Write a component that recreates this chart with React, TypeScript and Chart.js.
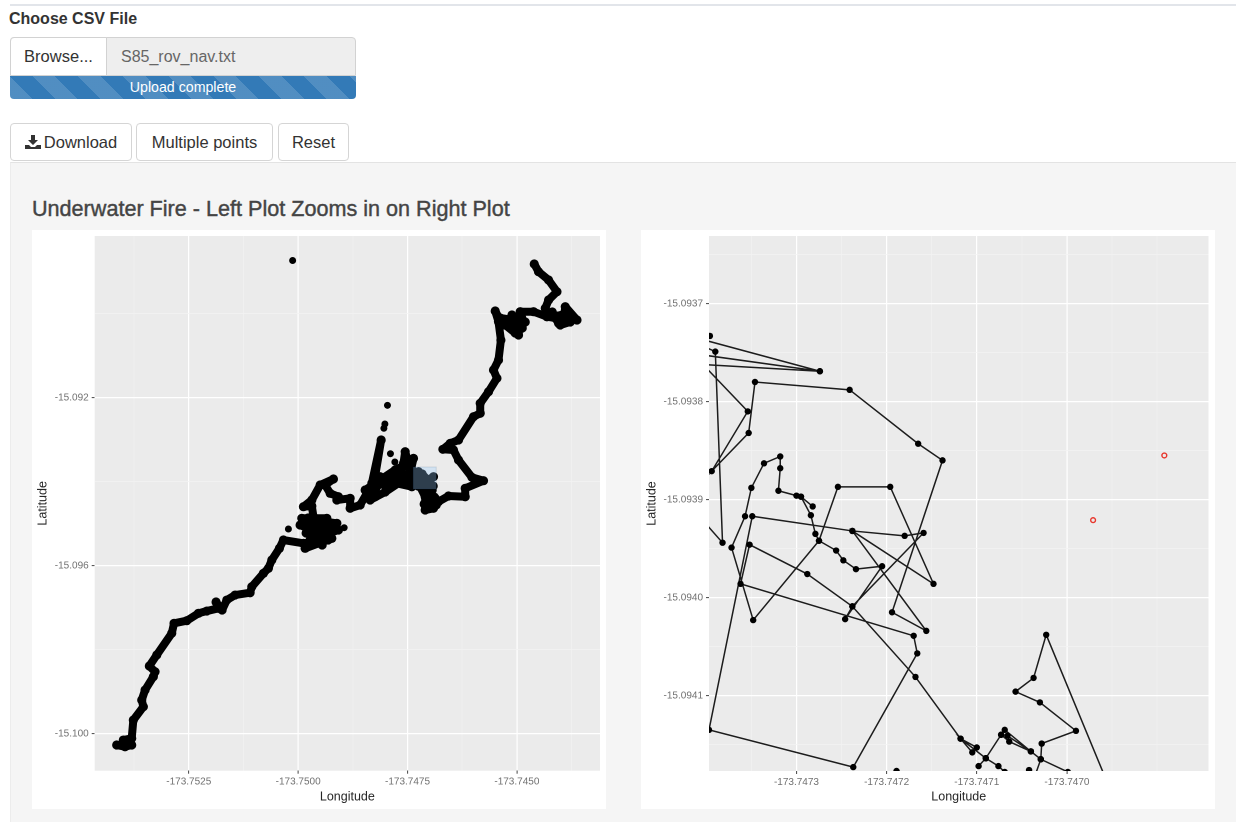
import React, { useEffect, useRef } from "react";
import { Chart, registerables } from "chart.js";

Chart.register(...registerables);

const FONT = '"Liberation Sans", Arial, sans-serif';

// Left plot: whole dive track
const leftTrackLon = [
  -173.754147, -173.753957, -173.753804, -173.753996, -173.753804, -173.753767, -173.753538, -173.753575, -173.753499, -173.75331,
  -173.753271, -173.753401, -173.753232, -173.752889, -173.752836, -173.752546, -173.75228, -173.752088, -173.751823, -173.751876,
  -173.751738, -173.751631, -173.751441, -173.751098, -173.751059, -173.750794, -173.75068, -173.750602, -173.750428, -173.750336,
  -173.749879, -173.74923, -173.74984, -173.749451, -173.749955, -173.749079, -173.749726, -173.749344, -173.749916, -173.749115,
  -173.749817, -173.749383, -173.74965, -173.749687, -173.749879, -173.749687, -173.749497, -173.749193, -173.749383, -173.749268,
  -173.749079, -173.749115, -173.748811, -173.748811, -173.748582, -173.748429, -173.748239, -173.748315, -173.748102, -173.748285,
  -173.748125, -173.747972, -173.747896, -173.747668, -173.747592, -173.747553, -173.747485, -173.747363, -173.747439, -173.747782,
  -173.7474, -173.747249, -173.747096, -173.746906, -173.74721, -173.747096, -173.747096, -173.746906, -173.746867, -173.747057,
  -173.746792, -173.746563, -173.746181, -173.746181, -173.745763, -173.746028, -173.746334, -173.746449, -173.746691, -173.746524,
  -173.746334, -173.745991, -173.745838, -173.745838, -173.745648, -173.745456, -173.745534, -173.74542, -173.745365, -173.74542,
  -173.745495, -173.745381, -173.745191, -173.745113, -173.744962, -173.744923, -173.745152, -173.744848, -173.744923, -173.744619,
  -173.744313, -173.744351, -173.744276, -173.744084, -173.744276, -173.744505, -173.744603, null,
  -173.744313, -173.744123, -173.744047, -173.743933, -173.743894, -173.743626, -173.743933, null,
  -173.748468, -173.748125, -173.747782, -173.747553, -173.747393, -173.747668, -173.748011, -173.748354, -173.748171, -173.747851,
  -173.747485, -173.747713, null,
  -173.747119, -173.746936, -173.747027, -173.746844, -173.747119, -173.74689, null,
  -173.747325, -173.747256, -173.746913, -173.747165, null,
  -173.745381, -173.744809, -173.745038, -173.745266, -173.744923, -173.745152, -173.744877, null,
  -173.744191, -173.744008, -173.74378, -173.743825, -173.744054, null,
  -173.749543, -173.749451, -173.74968, -173.749772, -173.749314,
];
const leftTrackLat = [
  -15.100269, -15.10031, -15.100269, -15.10015, -15.10011, -15.099674, -15.099357, -15.099198, -15.09896, -15.098643,
  -15.098524, -15.098388, -15.098126, -15.097609, -15.097371, -15.097309, -15.097133, -15.097079, -15.097014, -15.096864,
  -15.097055, -15.096817, -15.096698, -15.096643, -15.0965, -15.096181, -15.096062, -15.095864, -15.095586, -15.095388,
  -15.095467, -15.095348, -15.095586, -15.095269, -15.095031, -15.09515, -15.095388, -15.094871, -15.094871, -15.09499,
  -15.095221, -15.095102, -15.094833, -15.094579, -15.094595, -15.094436, -15.094079, -15.093936, -15.094079, -15.094276,
  -15.094357, -15.094436, -15.094395, -15.094633, -15.094555, -15.094276, -15.094357, -15.094038, -15.093007, -15.09415,
  -15.093881, -15.094198, -15.09384, -15.093881, -15.093562, -15.093286, -15.093531, -15.093443, -15.0938, -15.094031,
  -15.094119, -15.093762, -15.094, -15.093881, -15.094119, -15.094357, -15.094674, -15.094633, -15.094395, -15.094476,
  -15.094476, -15.09434, -15.094357, -15.094157, -15.093976, -15.093895, -15.093483, -15.093245, -15.093228, -15.093086,
  -15.093007, -15.092452, -15.092371, -15.092133, -15.091857, -15.091538, -15.09134, -15.091102, -15.090626, -15.09019,
  -15.089936, -15.09015, -15.090228, -15.090031, -15.090507, -15.09019, -15.09034, -15.09019, -15.089952, -15.089952,
  -15.090071, -15.089871, -15.089674, -15.089476, -15.089197, -15.089, -15.088816, null,
  -15.090071, -15.090102, -15.090228, -15.09019, -15.089833, -15.09015, -15.090031, null,
  -15.094198, -15.093959, -15.093721, -15.093602, -15.093721, -15.094007, -15.094245, -15.094436, -15.094079, -15.093912,
  -15.093912, -15.093769, null,
  -15.094198, -15.094198, -15.094555, -15.094555, -15.094531, -15.094364, null,
  -15.093912, -15.094102, -15.094102, -15.093817, null,
  -15.090102, -15.090197, -15.090459, -15.090269, -15.090031, -15.09015, -15.09034, null,
  -15.089959, -15.090269, -15.090197, -15.089959, -15.090055, null,
  -15.09515, -15.095507, -15.095269, -15.094864, -15.095388,
];
const leftDotLon = [-173.750126, -173.74804, -173.748017, -173.747958, -173.74789, -173.747789, -173.748948, -173.750222];
const leftDotLat = [-15.088733, -15.092728, -15.092626, -15.092181, -15.093333, -15.093531, -15.095095, -15.095126];
const brushLon = [-173.74737, -173.746844];
const brushLat = [-15.09365, -15.094174];

const leftXMajor = [-173.7525, -173.75, -173.7475, -173.745];
const leftXMinor = [-173.75375, -173.75125, -173.74875, -173.74625, -173.74375];
const leftYMajor = [-15.092, -15.096, -15.1];
const leftYMinor = [-15.09, -15.094, -15.098];

// Right plot: zoomed selection
const rightPathLon = [
  -173.747407, -173.747274, -173.747407, -173.747407, -173.747274, null,
  -173.747407, -173.74739, -173.747382, -173.747407, null,
  -173.747407, -173.747354, -173.747394, -173.747353, -173.747346, -173.747241, -173.747165, -173.747138, -173.747194, -173.747156,
  -173.747238, -173.747148, -173.747196, -173.747254, -173.747275, -173.747348, -173.747372, -173.747357, -173.74735, -173.747336,
  -173.747318, -173.747318, -173.74732, -173.7473, -173.747295, -173.747282, null,
  -173.747295, -173.747284, -173.747279, -173.747275, -173.747256, -173.747248, -173.747234, -173.747205, -173.747246, -173.747238,
  -173.747159, -173.74718, -173.747238, -173.747349, -173.747397, -173.747237, -173.747166, -173.74717, -173.747362, -173.747352,
  -173.747288, -173.747238, -173.747168, -173.747118, -173.7471, -173.747105, -173.747118, -173.74709, -173.747098, null,
  -173.74709, -173.747073, -173.747069, -173.74704, -173.747029, -173.746999, null,
  -173.747073, -173.747064, -173.74704, null,
  -173.747066, -173.74704, null,
  -173.74709, -173.747076, -173.747069, null,
  -173.747029, -173.747028, -173.74699, -173.74703, -173.747057, -173.747037, -173.747023, -173.746952, null,
  -173.747029, -173.747037, null,
  -173.747042, null,
  -173.747189, null,
  -173.747396,
];
const rightPathLat = [
  -15.093736, -15.093769, -15.093752, -15.093762, -15.093769, null,
  -15.093742, -15.093749, -15.093944, -15.093918, null,
  -15.093759, -15.09381, -15.093871, -15.093832, -15.09378, -15.093788, -15.093843, -15.09386, -15.094015, -15.094034,
  -15.093932, -15.093986, -15.093887, -15.093887, -15.093942, -15.094023, -15.093949, -15.093917, -15.093888, -15.093863,
  -15.093856, -15.093868, -15.093891, -15.093896, -15.093897, -15.093907, null,
  -15.093897, -15.093916, -15.093935, -15.093942, -15.093952, -15.093962, -15.093971, -15.093968, -15.094022, -15.094009,
  -15.093934, -15.093937, -15.093932, -15.093917, -15.094135, -15.094173, -15.094057, -15.094039, -15.093986, -15.093946,
  -15.093976, -15.094009, -15.094081, -15.094144, -15.094153, -15.094158, -15.094144, -15.094164, -15.094172, null,
  -15.094164, -15.09414, -15.094135, -15.094157, -15.094165, -15.094178, null,
  -15.09414, -15.094147, -15.094157, null,
  -15.094141, -15.094157, null,
  -15.094164, -15.094172, -15.094178, null,
  -15.094165, -15.094149, -15.094136, -15.094107, -15.094096, -15.094082, -15.094038, -15.094196, null,
  -15.094165, -15.094186, null,
  -15.094176, null,
  -15.094177, null,
  -15.093733,
];
const redLon = [-173.746892, -173.746971];
const redLat = [-15.093855, -15.093921];

const rightXMajor = [-173.7473, -173.7472, -173.7471, -173.747];
const rightXMinor = [-173.74735, -173.74725, -173.74715, -173.74705, -173.74695, -173.7469];
const rightYMajor = [-15.0937, -15.0938, -15.0939, -15.094, -15.0941];
const rightYMinor = [-15.09365, -15.09375, -15.09385, -15.09395, -15.09405, -15.09415];

const zip = (xs: (number | null)[], ys: (number | null)[]) => xs.map((x, i) => ({ x, y: ys[i] }));

const panelPlugin = {
  id: "panel",
  beforeDraw(c: any) {
    const { ctx, chartArea: a } = c;
    ctx.save();
    ctx.fillStyle = "#EBEBEB";
    ctx.fillRect(a.left, a.top, a.right - a.left, a.bottom - a.top);
    ctx.restore();
  },
};

const brushPlugin = {
  id: "brush",
  afterDatasetsDraw(c: any) {
    const { ctx, scales } = c;
    const x0 = scales.x.getPixelForValue(brushLon[0]);
    const x1 = scales.x.getPixelForValue(brushLon[1]);
    const y0 = scales.y.getPixelForValue(brushLat[0]);
    const y1 = scales.y.getPixelForValue(brushLat[1]);
    ctx.save();
    ctx.fillStyle = "rgba(153,204,255,0.3)";
    ctx.strokeStyle = "rgba(0,51,102,0.12)";
    ctx.fillRect(x0, y0, x1 - x0, y1 - y0);
    ctx.strokeRect(x0, y0, x1 - x0, y1 - y0);
    ctx.restore();
  },
};

function axis(
  axisId: string,
  title: string,
  min: number,
  max: number,
  major: number[],
  minor: number[],
  digits: number,
  size: number
) {
  return {
    type: "linear",
    min,
    max,
    afterBuildTicks(s: any) {
      s.ticks = [
        ...minor.map((value) => ({ value, major: false })),
        ...major.map((value) => ({ value, major: true })),
      ];
    },
    afterFit(s: any) {
      if (axisId === "x") s.height = size;
      else s.width = size;
      s.paddingTop = 0;
      s.paddingBottom = 0;
      s.paddingLeft = 0;
      s.paddingRight = 0;
    },
    border: { display: false },
    grid: {
      drawOnChartArea: true,
      color: (c: any) => (c.tick && c.tick.major ? "#FFFFFF" : "#F3F3F3"),
      lineWidth: (c: any) => (c.tick && c.tick.major ? 1.2 : 0.7),
      tickColor: (c: any) => (c.tick && c.tick.major ? "#444444" : "rgba(0,0,0,0)"),
      tickLength: 3,
      tickWidth: 1,
    },
    ticks: {
      autoSkip: false,
      maxRotation: 0,
      minRotation: 0,
      padding: axisId === "x" ? 2 : 3,
      color: "#707070",
      font: { family: FONT, size: 10 },
      callback(this: any, v: number) {
        return major.includes(v) ? v.toFixed(digits) : "";
      },
    },
    title: {
      display: true,
      text: title,
      color: "#262626",
      font: { family: FONT, size: 12.5 },
      padding: axisId === "x" ? { top: 0, bottom: 4.5 } : { top: 3.5, bottom: 0 },
    },
  };
}

function baseOptions(x: any, y: any, right: number) {
  return {
    animation: false,
    responsive: false,
    devicePixelRatio: 2,
    layout: { padding: { top: 6, right, bottom: 0, left: 0 } },
    plugins: { legend: { display: false }, tooltip: { enabled: false }, title: { display: false } },
    scales: { x, y },
  };
}

function ShinyButton({ left, width, children }: { left: number; width: number; children: React.ReactNode }) {
  return (
    <div
      style={{
        position: "absolute",
        left,
        top: 123,
        width,
        height: 38,
        boxSizing: "border-box",
        border: "1px solid #d5d5d5",
        borderRadius: 4,
        background: "#fff",
        color: "#333",
        fontSize: 16.5,
        display: "flex",
        alignItems: "center",
        justifyContent: "center",
      }}
    >
      {children}
    </div>
  );
}

export default function App() {
  const leftRef = useRef<HTMLCanvasElement>(null);
  const rightRef = useRef<HTMLCanvasElement>(null);

  useEffect(() => {
    const left = new Chart(leftRef.current as HTMLCanvasElement, {
      type: "scatter",
      data: {
        datasets: [
          {
            data: zip(leftTrackLon, leftTrackLat),
            showLine: true,
            spanGaps: false,
            borderColor: "#000",
            borderWidth: 8,
            borderCapStyle: "round",
            borderJoinStyle: "round",
            backgroundColor: "#000",
            pointRadius: 4.6,
            pointBorderWidth: 0,
            clip: 0,
          },
          {
            data: zip(leftDotLon, leftDotLat),
            showLine: false,
            backgroundColor: "#000",
            pointRadius: 3.5,
            pointBorderWidth: 0,
            clip: 0,
          },
        ],
      },
      options: baseOptions(
        axis("x", "Longitude", -173.75465, -173.7431, leftXMajor, leftXMinor, 4, 38.3),
        axis("y", "Latitude", -15.10088, -15.08815, leftYMajor, leftYMinor, 3, 62.7),
        6
      ),
      plugins: [panelPlugin, brushPlugin],
    } as any);

    const right = new Chart(rightRef.current as HTMLCanvasElement, {
      type: "scatter",
      data: {
        datasets: [
          {
            data: zip(rightPathLon, rightPathLat),
            showLine: true,
            spanGaps: false,
            borderColor: "#1c1c1c",
            borderWidth: 1.5,
            backgroundColor: "#000",
            pointRadius: 3.2,
            pointBorderWidth: 0,
            clip: 0,
          },
          {
            data: zip(redLon, redLat),
            showLine: false,
            backgroundColor: "rgba(0,0,0,0)",
            borderColor: "#E8352B",
            pointRadius: 2.4,
            pointBorderWidth: 1.4,
            clip: 0,
          },
        ],
      },
      options: baseOptions(
        axis("x", "Longitude", -173.747397, -173.746843, rightXMajor, rightXMinor, 4, 38),
        axis("y", "Latitude", -15.094177, -15.093631, rightYMajor, rightYMinor, 4, 68),
        6.5
      ),
      plugins: [panelPlugin],
    } as any);

    return () => {
      left.destroy();
      right.destroy();
    };
  }, []);

  return (
    <div
      style={{
        position: "absolute",
        left: 0,
        top: 0,
        width: 1236,
        height: 822,
        overflow: "hidden",
        background: "#fff",
        fontFamily: FONT,
        filter: "blur(0.35px)",
      }}
    >
      <div style={{ position: "absolute", left: 10, right: 0, top: 4, height: 2, background: "#e2e5ea" }} />
      <div style={{ position: "absolute", left: 9, top: 10, fontSize: 16, fontWeight: 700, color: "#333", whiteSpace: "nowrap" }}>
        Choose CSV File
      </div>

      <div
        style={{
          position: "absolute",
          left: 10,
          top: 37,
          width: 346,
          height: 39,
          boxSizing: "border-box",
          border: "1px solid #d2d2d2",
          borderRadius: "4px 4px 0 0",
          background: "#eeeeee",
          color: "#666",
          fontSize: 16,
          lineHeight: "37px",
          paddingLeft: 110,
        }}
      >
        S85_rov_nav.txt
      </div>
      <div
        style={{
          position: "absolute",
          left: 10,
          top: 37,
          width: 97,
          height: 39,
          boxSizing: "border-box",
          border: "1px solid #d2d2d2",
          borderRadius: "4px 0 0 0",
          background: "#fff",
          color: "#333",
          fontSize: 16.5,
          lineHeight: "37px",
          textAlign: "center",
        }}
      >
        Browse...
      </div>
      <div
        style={{
          position: "absolute",
          left: 10,
          top: 76,
          width: 346,
          height: 23,
          borderRadius: "0 0 4px 4px",
          backgroundColor: "#337ab7",
          backgroundImage:
            "repeating-linear-gradient(45deg, rgba(255,255,255,0.15) 0 16px, rgba(255,255,255,0) 16px 32px)",
          color: "#fff",
          fontSize: 14.2,
          lineHeight: "23px",
          textAlign: "center",
        }}
      >
        Upload complete
      </div>

      <ShinyButton left={10} width={122}>
        <svg width="16" height="14" viewBox="0 0 16 14" style={{ marginRight: 3 }}>
          <path d="M6 0h4v5h3l-5 5-5-5h3z M0 10h4l2 2h4l2-2h4v4H0z" fill="#333" />
        </svg>
        Download
      </ShinyButton>
      <ShinyButton left={136} width={137}>
        Multiple points
      </ShinyButton>
      <ShinyButton left={278} width={71}>
        Reset
      </ShinyButton>

      <div
        style={{
          position: "absolute",
          left: 10,
          top: 162,
          width: 1226,
          height: 660,
          boxSizing: "border-box",
          background: "#f5f5f5",
          borderTop: "1px solid #e3e3e3",
          borderLeft: "1px solid #ececec",
        }}
      />
      <div
        style={{
          position: "absolute",
          left: 32,
          top: 196,
          fontSize: 21.6,
          fontWeight: 400,
          color: "#444",
          WebkitTextStroke: "0.4px #444",
          whiteSpace: "nowrap",
        }}
      >
        Underwater Fire - Left Plot Zooms in on Right Plot
      </div>

      <div style={{ position: "absolute", left: 32, top: 230, width: 574, height: 579, background: "#fff" }}>
        <canvas ref={leftRef} width={574} height={579} style={{ display: "block", width: 574, height: 579 }} />
      </div>
      <div style={{ position: "absolute", left: 641, top: 230, width: 574, height: 579, background: "#fff" }}>
        <canvas ref={rightRef} width={574} height={579} style={{ display: "block", width: 574, height: 579 }} />
      </div>
    </div>
  );
}
